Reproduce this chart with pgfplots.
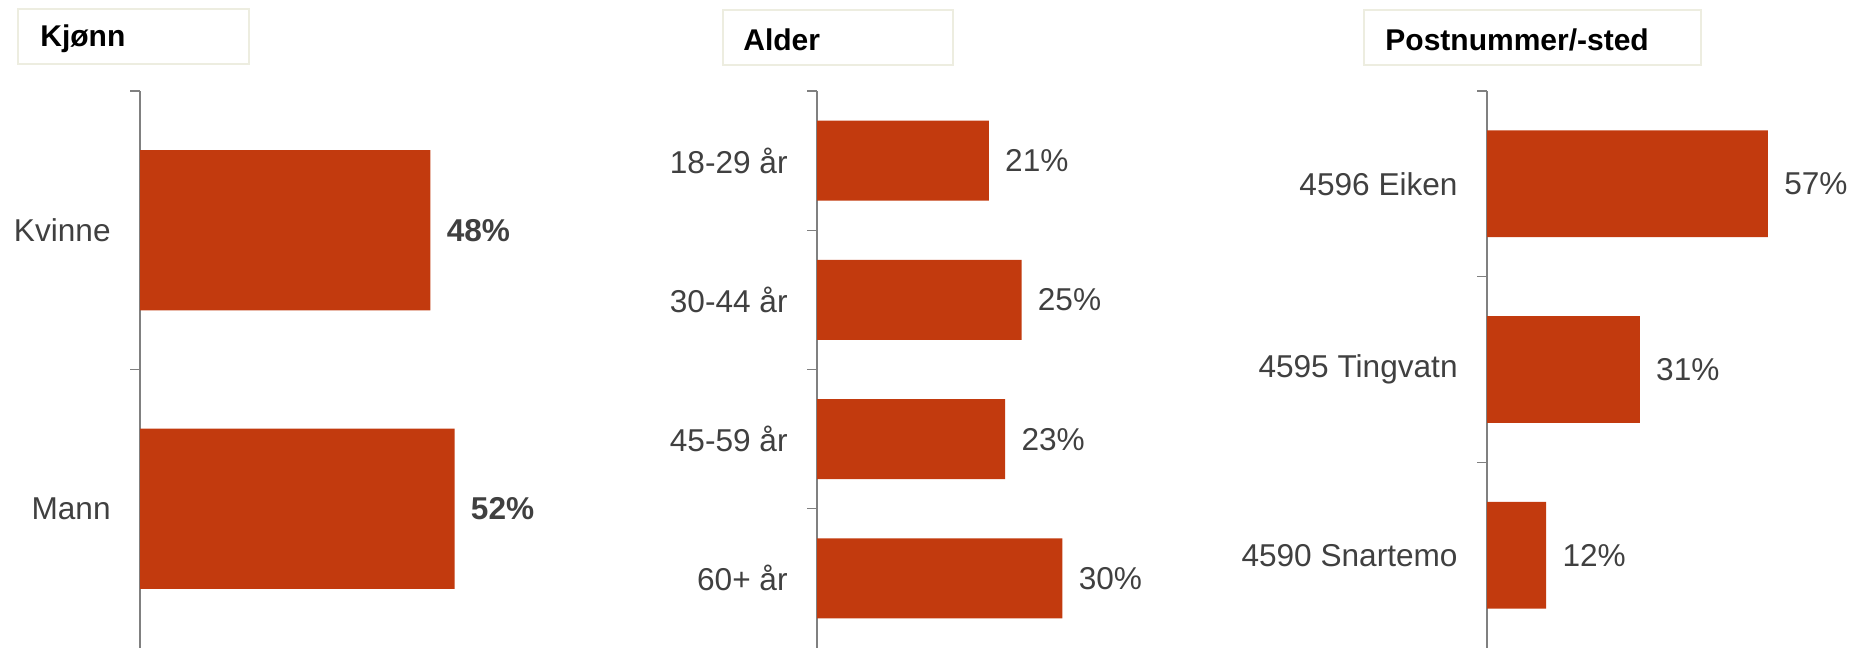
\documentclass[border=0pt]{standalone}
\usepackage{fontspec}
\setmainfont{Liberation Sans}
\usepackage{pgfplots}
\pgfplotsset{compat=1.18}

\definecolor{barc}{HTML}{C23A0E}
\definecolor{labc}{HTML}{404040}
\definecolor{axc}{HTML}{808080}
\definecolor{boxc}{HTML}{EDEDE0}

% 1 px of the reference = 0.5pt
\pgfplotsset{
  panel/.style={
    xbar, scale only axis,
    height=278.5pt,
    xmin=0, ymin=-0.5,
    y dir=reverse,
    hide x axis,
    axis y line*=left,
    axis line style={axc, line width=0.6pt},
    ytick=data,
    major tick length=0pt,
    tick align=outside,
    extra y tick style={major tick length=5pt, tick style={axc, line width=0.6pt}},
    extra y tick labels={},
    yticklabel style={font=\fontsize{15.8}{18}\selectfont, text=labc, inner sep=0pt, xshift=-14.5pt},
    bar width=0.575,
    clip=false,
    /pgf/number format/assume math mode=true,
    nodes near coords={\pgfmathprintnumber{\pgfplotspointmeta}\%},
    every node near coord/.append style={anchor=west, inner sep=0pt, xshift=8pt,
      font=\fontsize{15.8}{18}\selectfont, text=labc},
  },
}

\begin{document}
\begin{tikzpicture}[x=0.5pt, y=-0.5pt]
\path[use as bounding box] (0,0) rectangle (1852,648);
\coordinate (p1) at (140,648);
\coordinate (p2) at (817,648);
\coordinate (p3) at (1487,648);

% titles
\draw[boxc, fill=white, line width=0.6pt] (18,9) rectangle (249,64);
\node[anchor=west, inner sep=0pt, font=\fontsize{15}{18}\selectfont\bfseries] at (40,39) {Kjønn};
\draw[boxc, fill=white, line width=0.6pt] (723,10) rectangle (953,65);
\node[anchor=west, inner sep=0pt, font=\fontsize{15}{18}\selectfont\bfseries] at (743,40) {Alder};
\draw[boxc, fill=white, line width=0.6pt] (1364,10) rectangle (1701,65);
\node[anchor=west, inner sep=0pt, font=\fontsize{15}{18}\selectfont\bfseries] at (1385,40) {Postnummer/-sted};

% Kjønn
\begin{axis}[panel, at={(p1)}, anchor=south west,
  width=181.5pt, xmax=60, ymax=1.5,
  yticklabels={Kvinne,Mann},
  extra y ticks={-0.5,0.5},
  every node near coord/.append style={font=\fontsize{15.8}{18}\selectfont\bfseries}]
  \addplot[fill=barc, draw=none] coordinates {(48,0) (52,1)};
\end{axis}

% Alder
\begin{axis}[panel, at={(p2)}, anchor=south west,
  width=163.6pt, xmax=40, ymax=3.5,
  yticklabels={18-29 år,30-44 år,45-59 år,60+ år},
  extra y ticks={-0.5,0.5,1.5,2.5}]
  \addplot[fill=barc, draw=none] coordinates {(21,0) (25,1) (23,2) (30,3)};
\end{axis}

% Postnummer/-sted
\begin{axis}[panel, at={(p3)}, anchor=south west,
  width=172.5pt, xmax=70, ymax=2.5,
  yticklabels={4596 Eiken,4595 Tingvatn,4590 Snartemo},
  extra y ticks={-0.5,0.5,1.5}]
  \addplot[fill=barc, draw=none] coordinates {(57,0) (31,1) (12,2)};
\end{axis}
\end{tikzpicture}
\end{document}
